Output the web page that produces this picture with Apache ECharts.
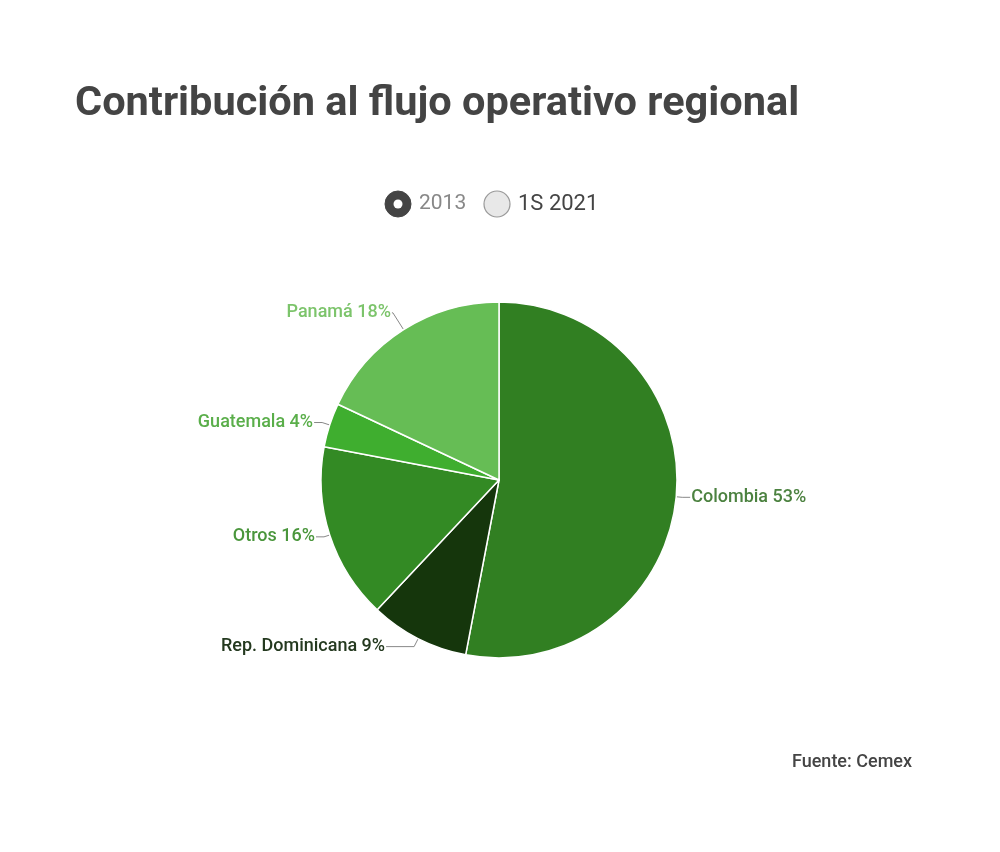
<!DOCTYPE html>
<html>
<head>
<meta charset="utf-8">
<script src="https://cdn.jsdelivr.net/npm/echarts@6/dist/echarts.min.js"></script>
<style>html,body{margin:0;padding:0;background:#fff;}#c{width:1000px;height:852px;}</style>
</head>
<body>
<div id="c"></div>
<script>
const categories = ["Colombia", "Rep. Dominicana", "Otros", "Guatemala", "Panamá"];
const values2013 = [53, 9, 16, 4, 18];
const sliceColors = ["#317f22", "#15360c", "#338a24", "#3fae2f", "#66bd55"];
const labelColors = ["#4c8240", "#24391f", "#4a963c", "#5aae4a", "#7cc46b"];
const legendLabels = ["2013", "1S 2021"];
const lineLen = [[6, 8], [9, 28], [6, 8], [8, 8], [20, 1]];

const chart = echarts.init(document.getElementById('c'));
const data = categories.map((n, i) => ({
  name: n,
  value: values2013[i],
  itemStyle: { color: sliceColors[i] },
  label: { color: labelColors[i] },
  labelLine: { length: lineLen[i][0], length2: lineLen[i][1] }
}));

chart.setOption({
  backgroundColor: '#fff',
  title: {
    text: 'Contribución al flujo operativo regional',
    left: 70, top: 79,
    textStyle: { fontFamily: 'Roboto', fontWeight: 'bold', fontSize: 41.5, color: '#444' }
  },
  graphic: [
    { type: 'circle', shape: { cx: 398, cy: 204, r: 13 }, style: { fill: '#444', stroke: '#444', lineWidth: 1 } },
    { type: 'circle', shape: { cx: 398, cy: 204, r: 4.5 }, style: { fill: '#fff' } },
    { type: 'text', left: 419, top: 193, style: { text: legendLabels[0], font: '21px Roboto', fill: '#888' } },
    { type: 'circle', shape: { cx: 497, cy: 204, r: 13 }, style: { fill: '#e8e8e8', stroke: '#999', lineWidth: 1.2 } },
    { type: 'text', left: 518, top: 193, style: { text: legendLabels[1], font: '22px Roboto', fill: '#444' } },
    { type: 'text', right: 88, top: 753, style: { text: 'Fuente: Cemex', font: '500 18px Roboto', fill: '#444' } }
  ],
  series: [{
    type: 'pie',
    center: [499, 480],
    radius: [0, 178],
    startAngle: 90,
    clockwise: true,
    data: data,
    itemStyle: { borderColor: '#fff', borderWidth: 1.5 },
    label: {
      show: true,
      formatter: '{b} {c}%',
      fontFamily: 'Roboto',
      fontWeight: 500,
      fontSize: 18,
      distanceToLabelLine: 1
    },
    labelLine: {
      show: true,
      lineStyle: { color: '#888', width: 1 }
    },
    emphasis: { disabled: true },
    animation: false
  }]
});
</script>
</body>
</html>
